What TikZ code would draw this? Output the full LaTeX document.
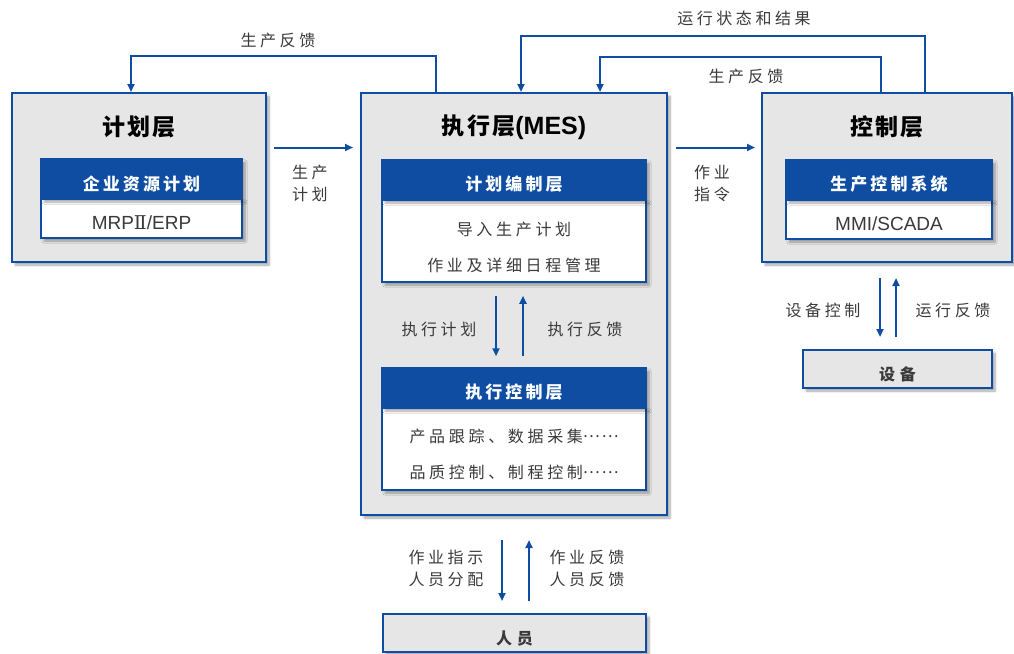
\documentclass[tikz,border=0pt]{standalone}
\usepackage{fontspec}
\setmainfont{Noto Sans CJK SC}
\newfontfamily\lat{Liberation Sans}
\newfontfamily\romn{DejaVu Serif}
\usetikzlibrary{shadows.blur,arrows.meta}
\definecolor{mblue}{HTML}{0E4DA2}
\definecolor{mgrey}{HTML}{E6E6E6}
\definecolor{mtext}{HTML}{3A3A3A}
\newcommand{\dn}[2]{\raisebox{-#1}[\height][\depth]{#2}}
\newcommand{\mdots}{\raisebox{0.3em}{\addfontfeature{LetterSpace=10}……}}
\tikzset{
  shd/.style={blur shadow={shadow xshift=3pt, shadow yshift=-3pt, shadow blur steps=6, shadow opacity=35}},
  layer/.style={draw=mblue, line width=2pt, fill=mgrey, shd, inner sep=0pt},
  hdr/.style={draw=mblue, line width=1.5pt, fill=mblue, text=white, inner sep=0pt,
    font=\fontsize{17}{18}\selectfont\bfseries\addfontfeature{LetterSpace=18}},
  bodyb/.style={draw=mblue, line width=1.5pt, fill=white, text=mtext, inner sep=0pt, align=center,
    font=\fontsize{16}{36}\selectfont\addfontfeature{LetterSpace=23}},
  latb/.style={draw=mblue, line width=1.5pt, fill=white, text=mtext, inner sep=0pt,
    font=\fontsize{19}{20}\selectfont\lat},
  ttl/.style={text=black, font=\fontsize{23}{24}\selectfont\bfseries\addfontfeature{LetterSpace=10}},
  lbl/.style={text=mtext, align=center, inner sep=0pt,
    font=\fontsize{16}{22}\selectfont\addfontfeature{LetterSpace=22}},
  arr/.style={draw=mblue, line width=2pt, -{Triangle[length=8pt,width=7pt]}},
}
\begin{document}
\begin{tikzpicture}[x=1pt,y=-1pt]
\useasboundingbox (0,0) rectangle (1014,653);
% outer layers
\node[layer, minimum width=254pt, minimum height=169pt] (L) at (139,177.5) {};
\node[layer, minimum width=306pt, minimum height=422pt] (M) at (514,304) {};
\node[layer, minimum width=250pt, minimum height=169pt] (R) at (887,177.5) {};
\node[layer, minimum width=189pt, minimum height=38pt, text=mtext,
  font=\fontsize{16}{18}\selectfont\bfseries\addfontfeature{LetterSpace=30}] (Dev) at (897.5,369) {\dn{5pt}{设备}};
\node[layer, minimum width=263pt, minimum height=38pt, text=mtext,
  font=\fontsize{16}{18}\selectfont\bfseries\addfontfeature{LetterSpace=30}] (Ppl) at (514.5,633) {\dn{6pt}{人员}};
% titles
\node[ttl] (Lt) at (139,127) {计划层};
\node[ttl] (Mt) at (514,127) {执行层{\fontsize{25}{26}\selectfont\lat\bfseries(MES)}};
\node[ttl] (Rt) at (887,127) {控制层};
% inner boxes
\node[latb, shd, minimum width=201pt, minimum height=39pt] (Lb) at (141.5,218.5) {\dn{4.5pt}{MRP{\romn Ⅱ}/ERP}};
\node[hdr, shd, minimum width=201pt, minimum height=40pt] (Lh) at (141.5,179) {\dn{5pt}{企业资源计划}};
\node[bodyb, shd, minimum width=264pt, minimum height=82pt] (Mb1) at (514,241) {\dn{5pt}{\begin{tabular}{@{}c@{}}导入生产计划\\作业及详细日程管理\end{tabular}}};
\node[hdr, shd, minimum width=264pt, minimum height=40pt] (Mh1) at (514,180) {\dn{4pt}{计划编制层}};
\node[bodyb, shd, minimum width=264pt, minimum height=82pt] (Mb2) at (514,449) {\dn{4.5pt}{\begin{tabular}{@{}c@{}}产品跟踪、数据采集\mdots\\品质控制、制程控制\mdots\end{tabular}}};
\node[hdr, shd, minimum width=264pt, minimum height=40pt] (Mh2) at (514,388) {\dn{4pt}{执行控制层}};
\node[latb, shd, minimum width=206pt, minimum height=39pt] (Rb) at (889,219.5) {\dn{4pt}{MMI/SCADA}};
\node[hdr, shd, minimum width=206pt, minimum height=40pt] (Rh) at (889,180) {\dn{4.5pt}{生产控制系统}};
% helper coordinates
\coordinate (a1) at (436,56); \coordinate (a2) at (131,56);
\coordinate (b1) at (925,36); \coordinate (b2) at (521,36);
\coordinate (c1) at (881,57); \coordinate (c2) at (600,57);
\coordinate (h1) at (0,147.5);
\coordinate (v1) at (496,0); \coordinate (v2) at (523,0);
\coordinate (w1) at (502,0); \coordinate (w2) at (529,0);
\coordinate (r1) at (880,0); \coordinate (r2) at (896,0);
% connectors
\draw[arr] (M.north -| a1) -- (a1) -- (a2) -- (L.north -| a2);
\draw[arr] (R.north -| b1) -- (b1) -- (b2) -- (M.north -| b2);
\draw[arr] (R.north -| c1) -- (c1) -- (c2) -- (M.north -| c2);
\draw[arr, shorten <=7pt, shorten >=7pt] (L.east |- h1) -- (M.west |- h1);
\draw[arr, shorten <=8pt, shorten >=6pt] (M.east |- h1) -- (R.west |- h1);
\draw[arr, shorten <=13pt, shorten >=11pt] (Mb1.south -| v1) -- (Mh2.north -| v1);
\draw[arr, shorten <=11pt, shorten >=13pt] (Mh2.north -| v2) -- (Mb1.south -| v2);
\draw[arr, shorten <=24pt, shorten >=12pt] (M.south -| w1) -- (Ppl.north -| w1);
\draw[arr, shorten <=12pt, shorten >=24pt] (Ppl.north -| w2) -- (M.south -| w2);
\draw[arr, shorten <=15pt, shorten >=12pt] (R.south -| r1) -- (Dev.north -| r1);
\draw[arr, shorten <=12pt, shorten >=15pt] (Dev.north -| r2) -- (R.south -| r2);
% labels
\node[lbl] (t1) at (278,40) {生产反馈};
\node[lbl] (t2) at (744,18) {运行状态和结果};
\node[lbl] (t3) at (746,76) {生产反馈};
\node[lbl] (t4) at (310,183) {生产\\计划};
\node[lbl] (t5) at (712,183) {作业\\指令};
\node[lbl] (t6) at (439,329) {执行计划};
\node[lbl] (t7) at (585,329) {执行反馈};
\node[lbl] (t8) at (446,568) {作业指示\\人员分配};
\node[lbl] (t9) at (587,568) {作业反馈\\人员反馈};
\node[lbl] (t10) at (823,310) {设备控制};
\node[lbl] (t11) at (953,310) {运行反馈};
\end{tikzpicture}
\end{document}
